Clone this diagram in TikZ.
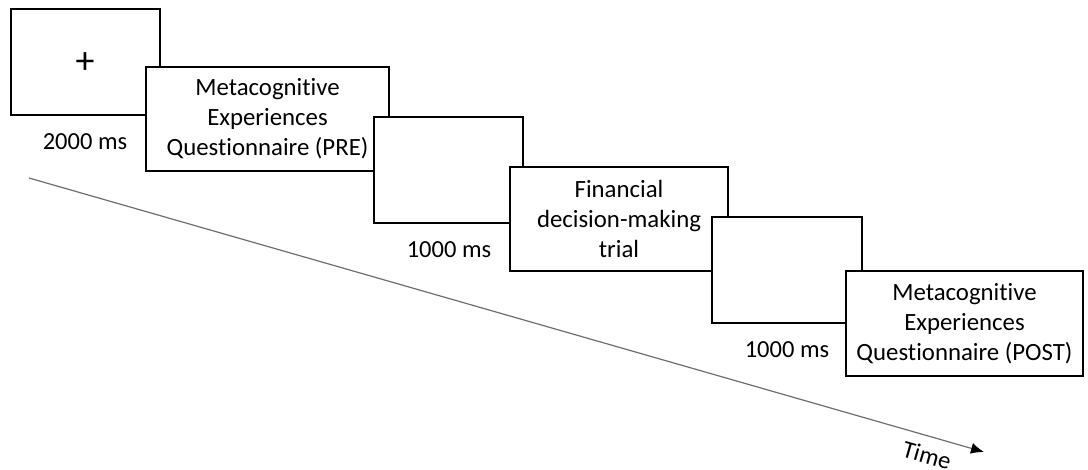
\documentclass[tikz,border=0pt]{standalone}
\usepackage{fontspec}
\setmainfont{Carlito}[Ligatures=NoCommon]
\usetikzlibrary{arrows.meta}
\begin{document}
\begin{tikzpicture}[x=1pt,y=-1pt,
  screen/.style={draw=black, fill=white, line width=1.8pt, inner sep=0pt, align=center,
    font=\fontsize{24.8}{30}\selectfont},
  lbl/.style={inner sep=0pt, font=\fontsize{24.5}{30}\selectfont},
  timeline/.style={draw={rgb,255:red,110;green,110;blue,110}, line width=1.2pt,
    -{Latex[length=13pt,width=11pt,color=black]}}]
\useasboundingbox (0,0) rectangle (1088,470);
\node[screen, minimum width=149pt, minimum height=106pt] (s1) at (85.5,62) {};
\node[inner sep=0pt, font=\fontsize{38}{40}\selectfont] (plus) at (85,63) {+};
\node[screen, minimum width=243pt, minimum height=104pt] (s2) at (267.5,119)
  {Metacognitive\\Experiences\\Questionnaire (PRE)};
\node[screen, minimum width=149pt, minimum height=106pt] (s3) at (448.5,170) {};
\node[screen, minimum width=218pt, minimum height=104pt] (s4) at (619,219)
  {Financial\\decision-making\\trial};
\node[screen, minimum width=150pt, minimum height=106pt] (s5) at (787,270) {};
\node[screen, minimum width=237pt, minimum height=105pt] (s6) at (964.5,323.5)
  {Metacognitive\\Experiences\\Questionnaire (POST)};
\node[lbl] (d1) at (85,142) {2000 ms};
\node[lbl] (d2) at (449,250) {1000 ms};
\node[lbl] (d3) at (787,350) {1000 ms};
\coordinate (tstart) at (29,178);
\coordinate (tend) at (984,452);
\draw[timeline] (tstart) -- (tend);
\node[lbl, rotate=-16] (time) at (927,455) {Time};
\end{tikzpicture}
\end{document}
